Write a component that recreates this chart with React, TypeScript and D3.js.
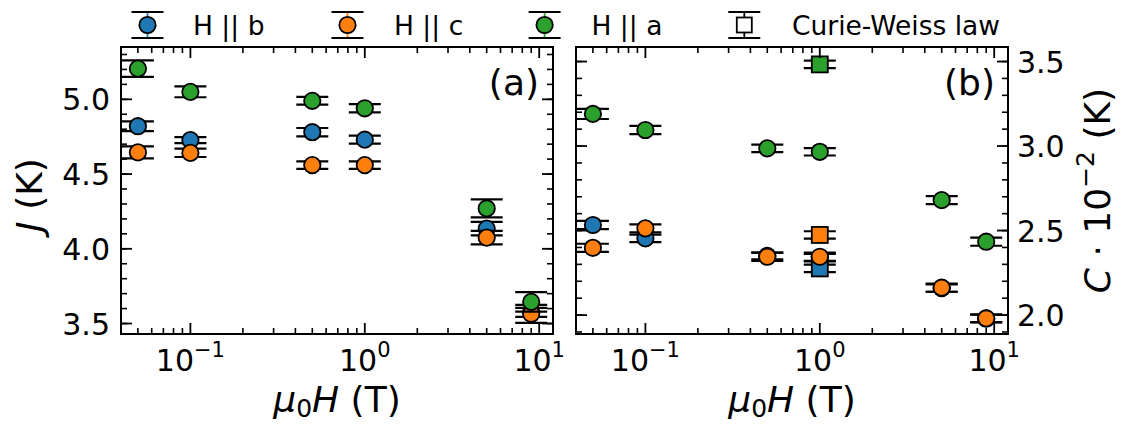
import React from "react";
import * as d3 from "d3";

// ---------- data ----------
const fields = [0.05, 0.1, 0.5, 1, 5, 9];

// panel (a): J (K)
const jHb = [4.82, 4.727, 4.78, 4.73, 4.135, 3.575];
const jHbErr = [0.033, 0.02, 0.028, 0.027, 0.045, 0.03];
const jHc = [4.645, 4.642, 4.56, 4.56, 4.075, 3.565];
const jHcErr = [0.04, 0.028, 0.025, 0.025, 0.045, 0.06];
const jHa = [5.205, 5.05, 4.99, 4.94, 4.27, 3.645];
const jHaErr = [0.055, 0.036, 0.026, 0.028, 0.06, 0.065];

// panel (b): C·10^-2 (K)
const cHb = [2.533, 2.454, 2.35, 2.34, 2.16, 1.98];
const cHbErr = [0.024, 0.022, 0.02, 0.022, 0.022, 0.022];
const cHc = [2.398, 2.513, 2.345, 2.345, 2.162, 1.98];
const cHcErr = [0.024, 0.024, 0.024, 0.024, 0.024, 0.024];
const cHa = [3.19, 3.095, 2.986, 2.966, 2.68, 2.434];
const cHaErr = [0.03, 0.024, 0.022, 0.022, 0.024, 0.024];

// Curie-Weiss law (squares) at 1 T
const cwField = [1];
const cwHb = [2.276];
const cwHc = [2.474];
const cwHa = [3.483];
const cwErr = [0.022];

const legendLabels = ["H || b", "H || c", "H || a", "Curie-Weiss law"];
const colors = ["#1f77b4", "#ff7f0e", "#2ca02c"];

const xTicksMajor = [0.1, 1, 10];
const xTickExp = ["−1", "0", "1"];
const xTicksMinor = [0.05, 0.06, 0.07, 0.08, 0.09, 0.2, 0.3, 0.4, 0.5, 0.6, 0.7, 0.8, 0.9, 2, 3, 4, 5, 6, 7, 8, 9];
const yTicksA = [3.5, 4.0, 4.5, 5.0];
const yTicksB = [2.0, 2.5, 3.0, 3.5];

// ---------- layout ----------
const W = 1121, H = 425;
const TOP = 47, BOT = 334;
const AX = { l: 121, r: 553 };
const BX = { l: 576, r: 1008 };
const FONT = "DejaVu Sans, sans-serif";
const R = 8.2;
const CAP = 16;
const LABEL_FS = 36;

const xA = d3.scaleLog().domain([0.04, 12]).range([AX.l, AX.r]);
const xB = d3.scaleLog().domain([0.04, 12]).range([BX.l, BX.r]);
const yA = d3.scaleLinear().domain([3.43, 5.35]).range([BOT, TOP]);
const yB = d3.scaleLinear().domain([1.888, 3.586]).range([BOT, TOP]);

function minorY(lo: number, hi: number) {
  return d3.range(Math.round(lo * 10), Math.round(hi * 10) + 1).map((v) => v / 10);
}

function ErrPoint({ cx, cy, top, bot, color, square }: any) {
  return (
    <g>
      <line x1={cx} x2={cx} y1={top} y2={bot} stroke="black" strokeWidth={2} />
      <line x1={cx - CAP} x2={cx + CAP} y1={top} y2={top} stroke="black" strokeWidth={2.2} />
      <line x1={cx - CAP} x2={cx + CAP} y1={bot} y2={bot} stroke="black" strokeWidth={2.2} />
      {square ? (
        <rect x={cx - 8} y={cy - 8} width={16} height={16} fill={color} stroke="black" strokeWidth={1.8} />
      ) : (
        <circle cx={cx} cy={cy} r={R} fill={color} stroke="black" strokeWidth={1.8} />
      )}
    </g>
  );
}

function Frame({ x, y, left, right, labelsLeft }: any) {
  const yMajor = labelsLeft ? yTicksA : yTicksB;
  const dom = y.domain();
  const yMinor = minorY(Math.ceil(dom[0] * 10) / 10, Math.floor(dom[1] * 10) / 10);
  return (
    <g>
      {xTicksMinor.map((t, i) => (
        <g key={"xm" + i}>
          <line x1={x(t)} x2={x(t)} y1={BOT} y2={BOT - 6} stroke="black" strokeWidth={1.6} />
          <line x1={x(t)} x2={x(t)} y1={TOP} y2={TOP + 6} stroke="black" strokeWidth={1.6} />
        </g>
      ))}
      {xTicksMajor.map((t, i) => (
        <g key={"xM" + i}>
          <line x1={x(t)} x2={x(t)} y1={BOT} y2={BOT - 11} stroke="black" strokeWidth={1.8} />
          <line x1={x(t)} x2={x(t)} y1={TOP} y2={TOP + 11} stroke="black" strokeWidth={1.8} />
          <text x={x(t)} y={371} textAnchor="middle" fontSize={30} fontFamily={FONT}>
            10<tspan dy={-14} fontSize={21}>{xTickExp[i]}</tspan>
          </text>
        </g>
      ))}
      {yMinor.map((t, i) => (
        <g key={"ym" + i}>
          <line x1={left} x2={left + 6} y1={y(t)} y2={y(t)} stroke="black" strokeWidth={1.6} />
          <line x1={right} x2={right - 6} y1={y(t)} y2={y(t)} stroke="black" strokeWidth={1.6} />
        </g>
      ))}
      {yMajor.map((t: number, i: number) => (
        <g key={"yM" + i}>
          <line x1={left} x2={left + 11} y1={y(t)} y2={y(t)} stroke="black" strokeWidth={1.8} />
          <line x1={right} x2={right - 11} y1={y(t)} y2={y(t)} stroke="black" strokeWidth={1.8} />
          {labelsLeft ? (
            <text x={left - 11} y={y(t) + 11} textAnchor="end" fontSize={30} fontFamily={FONT}>
              {t.toFixed(1)}
            </text>
          ) : (
            <text x={right + 9} y={y(t) + 11} textAnchor="start" fontSize={30} fontFamily={FONT}>
              {t.toFixed(1)}
            </text>
          )}
        </g>
      ))}
      <rect x={left} y={TOP} width={right - left} height={BOT - TOP} fill="none" stroke="black" strokeWidth={2} />
    </g>
  );
}

function FieldLabel({ cx }: any) {
  return (
    <text x={cx} y={412} textAnchor="middle" fontSize={LABEL_FS} fontFamily={FONT}>
      <tspan fontStyle="italic">μ</tspan>
      <tspan fontSize={25} dy={5}>0</tspan>
      <tspan fontStyle="italic" dy={-5}>H</tspan>
      <tspan> (T)</tspan>
    </text>
  );
}

export default function App() {
  const aSeries = [
    { v: jHb, e: jHbErr, c: colors[0] },
    { v: jHc, e: jHcErr, c: colors[1] },
    { v: jHa, e: jHaErr, c: colors[2] },
  ];
  const bSeries = [
    { v: cHb, e: cHbErr, c: colors[0], cw: cwHb },
    { v: cHc, e: cHcErr, c: colors[1], cw: cwHc },
    { v: cHa, e: cHaErr, c: colors[2], cw: cwHa },
  ];
  const legX = [147.5, 347.5, 544.6, 744.3];
  const legTX = [193, 394, 591.5, 792];
  const legY = 25;

  return (
    <svg width={W} height={H} style={{ position: "absolute", left: 0, top: 0, background: "white" }} fontFamily={FONT}>
      <rect width={W} height={H} fill="white" />
      {/* panel (a) */}
      {aSeries.map((s, si) => (
        <g key={"a" + si}>
          {fields.map((f, i) => (
            <ErrPoint key={i} cx={xA(f)} cy={yA(s.v[i])} top={yA(s.v[i] + s.e[i])} bot={yA(s.v[i] - s.e[i])} color={s.c} />
          ))}
        </g>
      ))}
      <Frame x={xA} y={yA} left={AX.l} right={AX.r} labelsLeft={true} />
      <text x={539} y={95} textAnchor="end" fontSize={LABEL_FS} fontFamily={FONT}>(a)</text>

      {/* panel (b) */}
      {bSeries.map((s, si) => (
        <g key={"b" + si}>
          {fields.map((f, i) => (
            <ErrPoint key={i} cx={xB(f)} cy={yB(s.v[i])} top={yB(s.v[i] + s.e[i])} bot={yB(s.v[i] - s.e[i])} color={s.c} />
          ))}
          {cwField.map((f, i) => (
            <ErrPoint key={"cw" + i} cx={xB(f)} cy={yB(s.cw[i])} top={yB(s.cw[i] + cwErr[i])} bot={yB(s.cw[i] - cwErr[i])} color={s.c} square={true} />
          ))}
        </g>
      ))}
      <Frame x={xB} y={yB} left={BX.l} right={BX.r} labelsLeft={false} />
      <text x={995} y={95} textAnchor="end" fontSize={LABEL_FS} fontFamily={FONT}>(b)</text>

      {/* axis labels */}
      <FieldLabel cx={(AX.l + AX.r) / 2} />
      <FieldLabel cx={(BX.l + BX.r) / 2} />
      <text transform={`translate(42, 195) rotate(-90)`} textAnchor="middle" fontSize={LABEL_FS} fontFamily={FONT}>
        <tspan fontStyle="italic">J</tspan>
        <tspan> (K)</tspan>
      </text>
      <text transform={`translate(1110, 190.5) rotate(-90)`} textAnchor="middle" fontSize={LABEL_FS} fontFamily={FONT}>
        <tspan fontStyle="italic">C</tspan>
        <tspan> · 10</tspan>
        <tspan fontSize={25} dy={-16}>−2</tspan>
        <tspan dy={16}> (K)</tspan>
      </text>

      {/* legend */}
      {legendLabels.map((lab, i) => (
        <g key={"leg" + i}>
          <line x1={legX[i]} x2={legX[i]} y1={legY - 13} y2={legY + 13} stroke={i < 3 ? colors[i] : "black"} strokeWidth={1.8} />
          <line x1={legX[i] - CAP} x2={legX[i] + CAP} y1={legY - 13} y2={legY - 13} stroke="black" strokeWidth={2.2} />
          <line x1={legX[i] - CAP} x2={legX[i] + CAP} y1={legY + 13} y2={legY + 13} stroke="black" strokeWidth={2.2} />
          {i < 3 ? (
            <circle cx={legX[i]} cy={legY} r={R} fill={colors[i]} stroke="black" strokeWidth={1.8} />
          ) : (
            <rect x={legX[i] - 7.5} y={legY - 7.5} width={15} height={15} fill="white" stroke="black" strokeWidth={1.8} />
          )}
          <text x={legTX[i]} y={34.5} fontSize={26.5} fontFamily={FONT}>{lab}</text>
        </g>
      ))}
    </svg>
  );
}
